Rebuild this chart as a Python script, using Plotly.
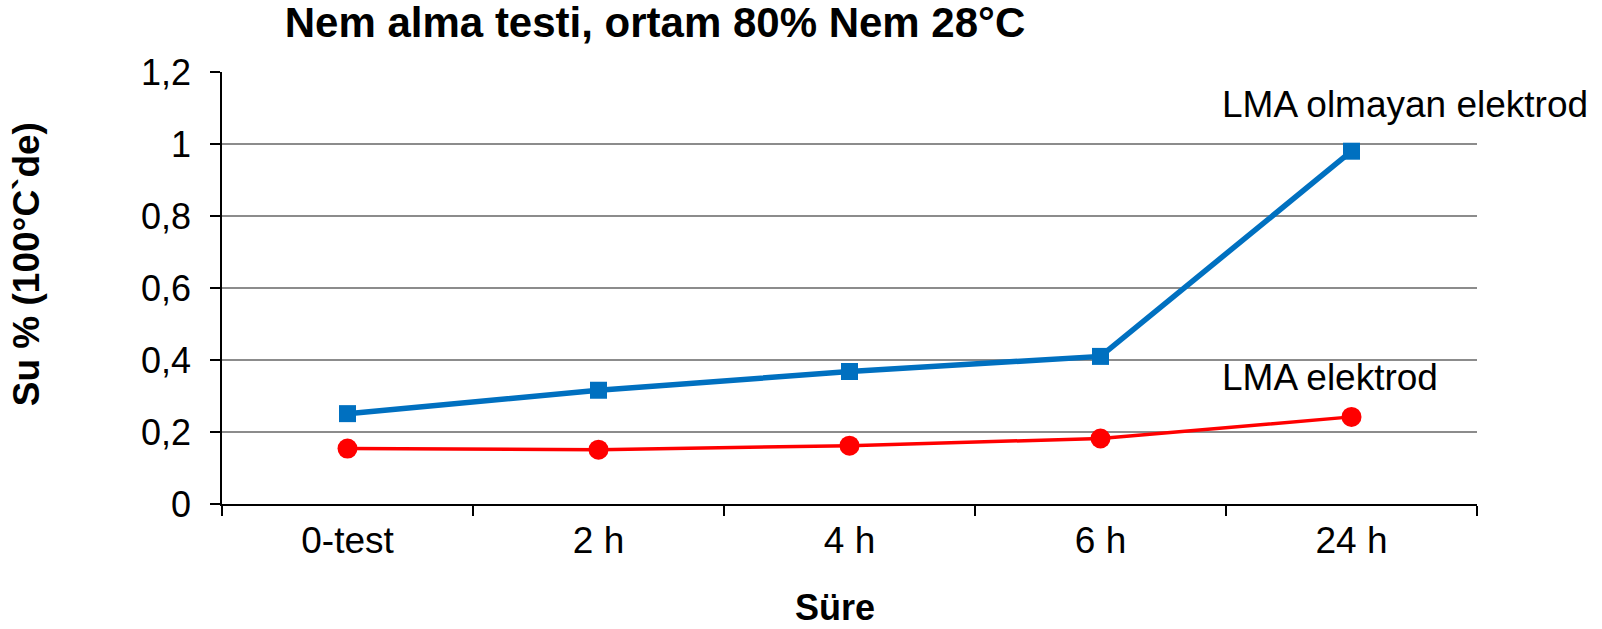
import plotly.graph_objects as go

categories = ["0-test", "2 h", "4 h", "6 h", "24 h"]
lma_olmayan = [0.251, 0.316, 0.368, 0.410, 0.980]
lma = [0.154, 0.151, 0.162, 0.182, 0.242]
y_ticks = [0, 0.2, 0.4, 0.6, 0.8, 1.0, 1.2]
y_tick_labels = ["0", "0,2", "0,4", "0,6", "0,8", "1", "1,2"]

FONT = "Liberation Sans, Arial, sans-serif"

W, H = 1602, 629
pl, pr, pt, pb = 222, 1477, 72, 504


def px(x):
    return (x - pl) / (pr - pl)


def py(y):
    return (pb - y) / (pb - pt)


fig = go.Figure()
fig.add_trace(go.Scatter(
    x=categories, y=lma_olmayan, mode="lines+markers", name="LMA olmayan elektrod",
    line=dict(color="#0070C0", width=5.5),
    marker=dict(symbol="square", size=17, color="#0070C0"),
    showlegend=False,
))
fig.add_trace(go.Scatter(
    x=categories, y=lma, mode="lines+markers", name="LMA elektrod",
    line=dict(color="#FF0000", width=3.5),
    marker=dict(symbol="circle", size=20, color="#FF0000"),
    showlegend=False,
))

fig.update_layout(
    width=W, height=H,
    margin=dict(l=pl, r=W - pr, t=pt, b=H - pb),
    paper_bgcolor="white", plot_bgcolor="white",
    font=dict(family=FONT, color="black", size=36),
    title=dict(text="<b>Nem alma testi, ortam 80% Nem 28°C</b>",
               x=px(655), xref="paper", xanchor="center",
               y=1 - 22.4 / H, yref="container", yanchor="middle",
               font=dict(size=42, family=FONT, color="black")),
)
fig.update_xaxes(
    type="category", range=[-0.5, 4.5],
    showline=True, linecolor="black", linewidth=1.5,
    ticks="outside", ticklen=10, tickcolor="black", tickwidth=1.5,
    tickson="boundaries", showgrid=False,
    tickfont=dict(size=37), ticklabelstandoff=3,
)
fig.update_yaxes(
    range=[0, 1.2], tickvals=y_ticks, ticktext=y_tick_labels,
    showline=True, linecolor="black", linewidth=1.5,
    ticks="outside", ticklen=10, tickcolor="black", tickwidth=1.5,
    showgrid=True, gridcolor="#8C8C8C", gridwidth=2,
    zeroline=False, tickfont=dict(size=36), ticklabelstandoff=12,
)

fig.add_annotation(text="LMA olmayan elektrod", x=px(1220), y=py(105), xref="paper", yref="paper",
                   xanchor="left", yanchor="middle", showarrow=False,
                   font=dict(size=37))
fig.add_annotation(text="LMA elektrod", x=px(1220), y=py(378), xref="paper", yref="paper",
                   xanchor="left", yanchor="middle", showarrow=False,
                   font=dict(size=37))
fig.add_annotation(text="<b>Su % (100°C`de)</b>", x=px(26.6), y=py(264.6),
                   xref="paper", yref="paper", textangle=-90,
                   xanchor="center", yanchor="middle", showarrow=False,
                   font=dict(size=37))
fig.add_annotation(text="<b>Süre</b>", x=px(835), y=py(607),
                   xref="paper", yref="paper",
                   xanchor="center", yanchor="middle", showarrow=False,
                   font=dict(size=36))

# remove the default page margin so the figure starts at the window's corner
fig.write_html("out.html", config={"displayModeBar": False},
               post_script="document.body.style.margin='0';")
